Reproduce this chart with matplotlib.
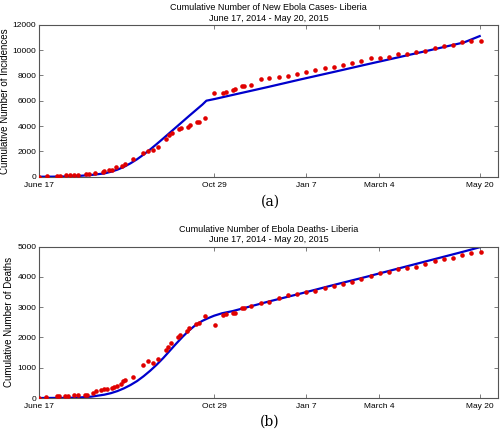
import matplotlib
matplotlib.use("Agg")
import matplotlib.pyplot as plt

# days since June 17, 2014
tick_days = [0, 134, 204, 260, 337]
tick_labels = ["June 17", "Oct 29", "Jan 7", "March 4", "May 20"]

# (a) cumulative cases - reported data
case_days = [0, 6, 14, 16, 20.6, 23.6, 27, 30, 36, 38, 43, 48.6, 50, 53.7, 56, 58.8,
             63.4, 65.5, 71.6, 79.7, 83, 86.9, 90.7, 97, 99.6, 102, 106.7, 108.5,
             113.6, 115.4, 120.5, 122.5, 127,
             134, 140.9, 143, 148, 150, 155, 157, 162, 169.4, 176, 183.4, 190.3,
             197.4, 204.5, 211.4, 218.6, 225.4, 232.6, 239.7, 246.6, 253.5, 260.6,
             267.5, 274.6, 281.5, 288.6, 295.5, 302.6, 309.7, 316.6, 323.8, 330.7, 337.8]
case_vals = [0, 40, 80, 85, 110, 115, 130, 160, 190, 195, 270, 400, 430, 510, 540, 747,
             880, 1013, 1387, 1867, 2000, 2080, 2347, 3013, 3280, 3413, 3733, 3813,
             3947, 4080, 4293, 4293, 4667,
             6600, 6613, 6693, 6827, 6933, 7147, 7147, 7227, 7680, 7787, 7893, 7947,
             8080, 8267, 8400, 8560, 8693, 8827, 8960, 9120, 9333, 9333,
             9440, 9653, 9707, 9813, 9947, 10133, 10293, 10400, 10667, 10720, 10747]

# (a) model fit
case_fit_days = [0, 10, 20, 30, 40, 50, 55, 60, 65, 70, 75, 80, 85, 90, 95, 100, 105,
                 110, 115, 120, 125, 128, 135, 150, 175, 200, 225, 250, 275, 300, 325, 337]
case_fit_vals = [0, 5, 20, 60, 140, 260, 390, 560, 780, 1060, 1380, 1750, 2150, 2580,
                 3020, 3470, 3920, 4370, 4820, 5260, 5700, 6000, 6150, 6500, 7080, 7680,
                 8260, 8850, 9430, 10010, 10600, 11100]

# (b) cumulative deaths - reported data
death_days = [0, 5.3, 13.5, 15, 20, 22.5, 26.5, 30, 35.4, 37, 41.5, 43.6, 47.4, 50, 52,
              55.8, 57.6, 59.6, 62.7, 64.5, 66, 71.6, 79.7, 83, 86.9, 90.7, 97, 99,
              100.9, 106, 107.8, 112.9, 114.9, 120, 122, 127,
              134.5, 141, 143, 148, 150, 155, 157, 162, 169.4, 176, 183.4, 190.3,
              197.4, 204.5, 211.4, 218.6, 225.4, 232.6, 239.7, 246.6, 253.5, 260.6,
              267.5, 274.6, 281.5, 288.6, 295.5, 302.6, 309.7, 316.6, 323.8, 330.7, 337.8]
death_vals = [0, 30, 70, 70, 80, 80, 100, 110, 110, 110, 180, 220, 260, 290, 290,
              330, 350, 400, 460, 570, 610, 680, 1090, 1220, 1140, 1290, 1590, 1700,
              1830, 2000, 2080, 2210, 2320, 2460, 2490, 2700,
              2420, 2740, 2790, 2820, 2820, 2980, 2980, 3025, 3145, 3180, 3290, 3390,
              3420, 3510, 3550, 3630, 3710, 3750, 3830, 3920, 4040, 4140,
              4170, 4270, 4290, 4330, 4420, 4510, 4580, 4610, 4720, 4780, 4830]

# (b) model fit
death_fit_days = [0, 20, 30, 40, 50, 55, 60, 65, 70, 75, 80, 85, 90, 95, 100, 105, 110,
                  115, 120, 125, 130, 134, 140, 148, 155, 175, 200, 225, 250, 275, 300,
                  325, 337]
death_fit_vals = [0, 5, 15, 45, 110, 160, 230, 320, 430, 560, 720, 900, 1100, 1320,
                  1560, 1800, 2030, 2240, 2420, 2550, 2650, 2720, 2800, 2870, 2950,
                  3180, 3450, 3730, 4000, 4280, 4560, 4840, 4980]

plt.rcParams['font.family'] = ['Liberation Sans', 'DejaVu Sans']

fig = plt.figure(figsize=(5, 4.3), dpi=100)
ax1 = fig.add_axes([0.078, 0.589, 0.918, 0.3536])
ax2 = fig.add_axes([0.078, 0.0744, 0.918, 0.352])

panels = [
    (ax1, case_days, case_vals, case_fit_days, case_fit_vals, 12000, 2000,
     "Cumulative Number of New Ebola Cases- Liberia", "Cumulative Number of Incidences"),
    (ax2, death_days, death_vals, death_fit_days, death_fit_vals, 5000, 1000,
     "Cumulative Number of Ebola Deaths- Liberia", "Cumulative Number of Deaths"),
]

for ax, dx, dy, fx, fy, ymax, ystep, title, ylabel in panels:
    ax.plot(fx, fy, color='#0000cc', lw=1.6, zorder=2)
    ax.plot(dx, dy, 'o', color='#e00000', ms=3.3, mec='none', zorder=3)
    ax.set_xlim(0, 351)
    ax.set_ylim(0, ymax)
    ax.set_xticks(tick_days)
    ax.set_xticklabels(tick_labels)
    ax.set_yticks(range(0, ymax + 1, ystep))
    ax.tick_params(direction='in', top=True, right=True, labelsize=6, length=3,
                   width=0.6, color='#666666')
    ax.tick_params(axis='x', pad=3.5)
    ax.tick_params(axis='y', pad=2)
    for s in ax.spines.values():
        s.set_color('#555555')
        s.set_linewidth(0.8)
    ax.set_title(title + "\nJune 17, 2014 - May 20, 2015", fontsize=6.5,
                 linespacing=1.2, pad=3)
    ax.set_ylabel(ylabel, fontsize=7, labelpad=2)

fig.text(0.54, 0.531, "(a)", ha='center', va='center', fontsize=10,
         family=['DejaVu Serif'])
fig.text(0.54, 0.019, "(b)", ha='center', va='center', fontsize=10,
         family=['DejaVu Serif'])

fig.savefig("out.png", dpi=100)
